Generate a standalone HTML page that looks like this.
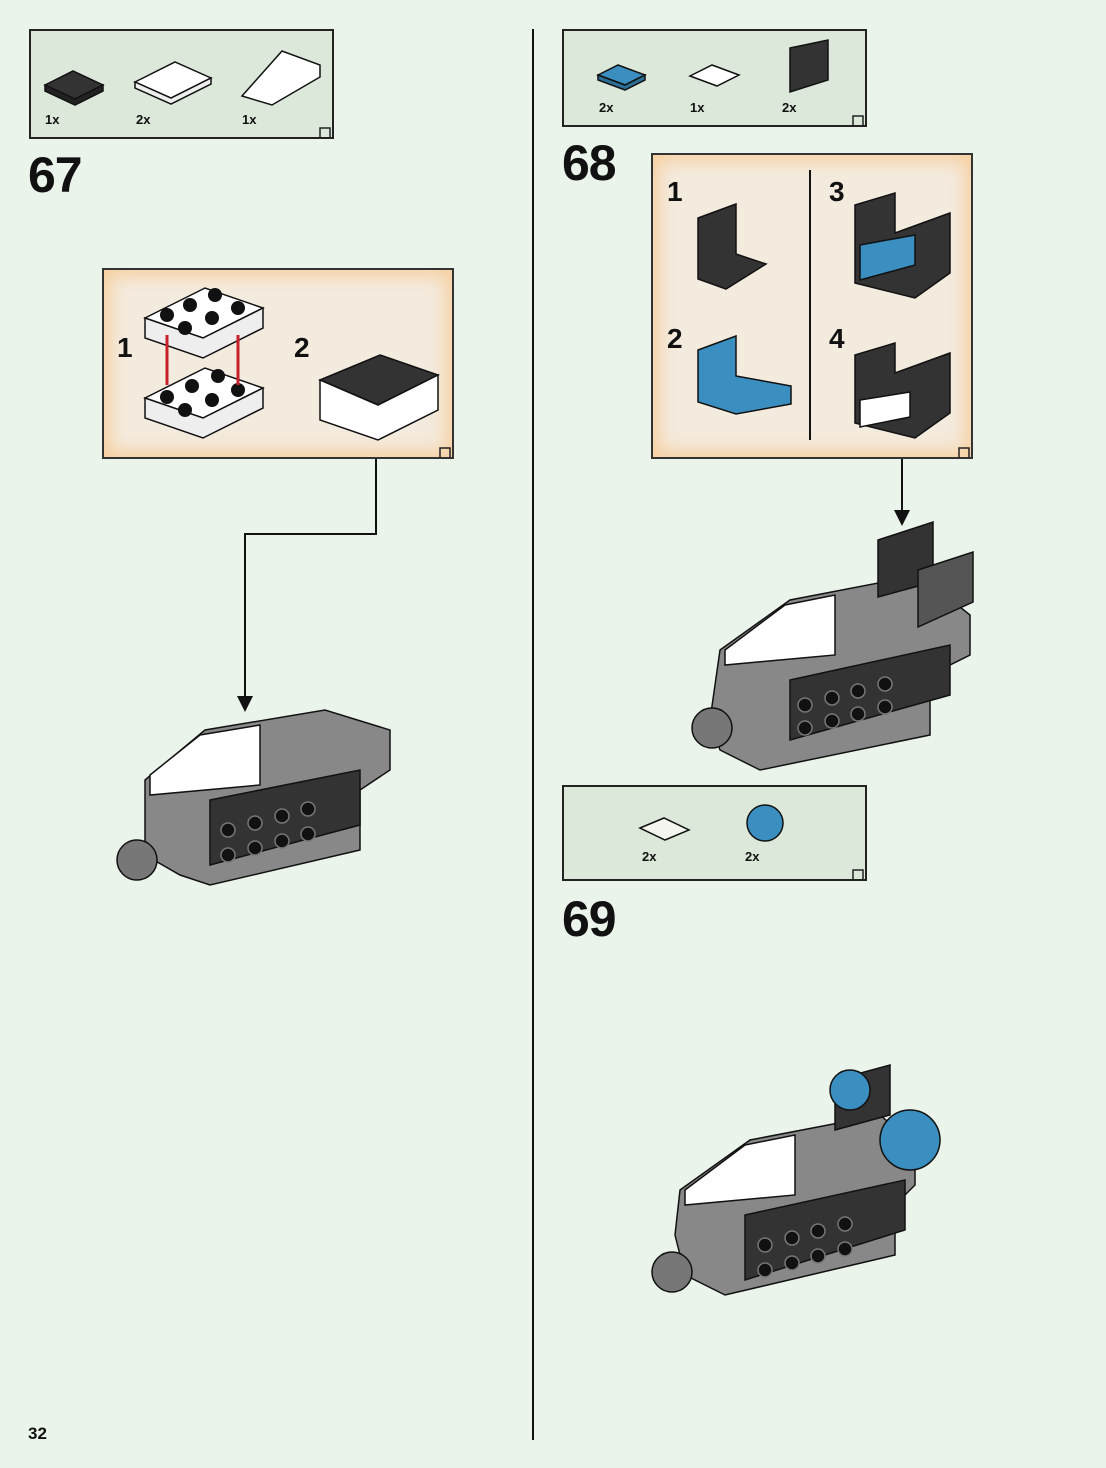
<!DOCTYPE html>
<html><head><meta charset="utf-8"><style>
body{margin:0;background:#ebf4ea;font-family:"Liberation Sans",Arial,sans-serif;}
.page{position:relative;width:1106px;height:1468px;overflow:hidden;background:#ebf4ea;}
.pb{position:absolute;background:#dbe8da;border:2px solid #222;box-sizing:border-box;}
.sb{position:absolute;background:#f4ebdf;border:2px solid #333;box-sizing:border-box;box-shadow:inset 0 0 18px 6px #f6cf9f;}
.num{position:absolute;font-weight:bold;font-size:50px;color:#111;letter-spacing:-1px;}
.q{position:absolute;font-weight:bold;font-size:13px;color:#111;}
.s{position:absolute;font-weight:bold;font-size:28px;color:#111;}
svg{position:absolute;left:0;top:0;}
</style></head><body><div class="page">
<div class="pb" style="left:29px;top:29px;width:305px;height:110px"></div>
<div class="pb" style="left:562px;top:29px;width:305px;height:98px"></div>
<div class="pb" style="left:562px;top:785px;width:305px;height:96px"></div>
<div class="sb" style="left:102px;top:268px;width:352px;height:191px"></div>
<div class="sb" style="left:651px;top:153px;width:322px;height:306px"></div>
<div class="num" style="left:28px;top:146px">67</div>
<div class="num" style="left:562px;top:134px">68</div>
<div class="num" style="left:562px;top:890px">69</div>
<div class="q" style="left:45px;top:112px">1x</div>
<div class="q" style="left:136px;top:112px">2x</div>
<div class="q" style="left:242px;top:112px">1x</div>
<div class="q" style="left:599px;top:100px">2x</div>
<div class="q" style="left:690px;top:100px">1x</div>
<div class="q" style="left:782px;top:100px">2x</div>
<div class="q" style="left:642px;top:849px">2x</div>
<div class="q" style="left:745px;top:849px">2x</div>
<div class="s" style="left:117px;top:332px">1</div>
<div class="s" style="left:294px;top:332px">2</div>
<div class="s" style="left:667px;top:176px">1</div>
<div class="s" style="left:829px;top:176px">3</div>
<div class="s" style="left:667px;top:323px">2</div>
<div class="s" style="left:829px;top:323px">4</div>
<div class="q" style="left:28px;top:1424px;font-size:17px">32</div>
<svg width="1106" height="1468" viewBox="0 0 1106 1468">
<g fill="none" stroke="#222" stroke-width="1.5">
<path d="M320,138 v-10 h10 v10"/><path d="M853,126 v-10 h10 v10"/><path d="M853,880 v-10 h10 v10"/>
<path d="M440,458 v-10 h10 v10"/><path d="M959,458 v-10 h10 v10"/>
</g>
<line x1="533" y1="29" x2="533" y2="1440" stroke="#111" stroke-width="2"/>
<line x1="810" y1="170" x2="810" y2="440" stroke="#111" stroke-width="2"/>
<path d="M376,459 V534 H245 V698" fill="none" stroke="#111" stroke-width="2"/>
<path d="M245,712 l-8,-16 h16z" fill="#111"/>
<line x1="902" y1="459" x2="902" y2="512" stroke="#111" stroke-width="2"/>
<path d="M902,526 l-8,-16 h16z" fill="#111"/>
<g stroke="#111" stroke-width="1.5">
<path d="M45,85 l28,-14 l30,14 l-28,14z" fill="#333"/><path d="M45,85 v6 l30,14 l28,-14 v-6 l-28,14z" fill="#222"/>
<path d="M135,82 l40,-20 l36,16 l-40,20z" fill="#fff"/><path d="M135,82 v6 l36,16 l40,-20 v-6 l-40,20z" fill="#eee"/>
<path d="M242,96 l40,-45 l38,14 v12 l-48,28z" fill="#fff"/>
<path d="M598,75 l20,-10 l27,10 l-20,10z" fill="#3b8fc0"/><path d="M598,75 v5 l27,10 l20,-10 v-5 l-20,10z" fill="#2c6f96"/>
<path d="M690,76 l22,-11 l27,10 l-22,11z" fill="#fff"/>
<path d="M790,48 l38,-8 v40 l-38,12z" fill="#333"/>
<path d="M640,828 l24,-10 l25,12 l-24,10z" fill="#f5f5f0"/>
<circle cx="765" cy="823" r="18" fill="#3b8fc0"/>
</g>
<g stroke="#111" stroke-width="1.5">
<path d="M145,318 l60,-30 l58,20 l-60,30z" fill="#fff"/><path d="M145,318 v20 l58,20 l60,-30 v-20 l-60,30z" fill="#eee"/>
<path d="M145,398 l60,-30 l58,20 l-60,30z" fill="#fff"/><path d="M145,398 v20 l58,20 l60,-30 v-20 l-60,30z" fill="#eee"/>
<path d="M320,380 l60,-25 l58,20 l-60,30z" fill="#333"/><path d="M320,380 v40 l58,20 l60,-30 v-35 l-60,30z" fill="#fff"/>
</g>
<g fill="#111"><circle cx="167" cy="315" r="7"/><circle cx="190" cy="305" r="7"/><circle cx="215" cy="295" r="7"/><circle cx="185" cy="328" r="7"/><circle cx="212" cy="318" r="7"/><circle cx="238" cy="308" r="7"/>
<circle cx="167" cy="397" r="7"/><circle cx="192" cy="386" r="7"/><circle cx="218" cy="376" r="7"/><circle cx="185" cy="410" r="7"/><circle cx="212" cy="400" r="7"/><circle cx="238" cy="390" r="7"/></g>
<line x1="167" y1="335" x2="167" y2="385" stroke="#c8202a" stroke-width="3"/>
<line x1="238" y1="335" x2="238" y2="385" stroke="#c8202a" stroke-width="3"/>
<g stroke="#111" stroke-width="1.5">
<path d="M698,218 l38,-14 v50 l30,10 l-40,25 l-28,-10z" fill="#333"/>
<path d="M698,350 l38,-14 v40 l55,10 v18 l-55,10 l-38,-12z" fill="#3b8fc0"/>
<path d="M855,205 l40,-12 v40 l55,-20 v60 l-35,25 l-60,-15z" fill="#333"/>
<path d="M860,245 l55,-10 v30 l-55,15z" fill="#3b8fc0"/>
<path d="M855,355 l40,-12 v30 l55,-20 v60 l-35,25 l-60,-15z" fill="#333"/>
<path d="M860,400 l50,-8 v25 l-50,10z" fill="#fff"/>
</g>
<g stroke="#111" stroke-width="1.5">
<path d="M145,780 l60,-50 l120,-20 l65,20 v40 l-30,20 v60 l-150,35 l-30,-10 l-35,-20z" fill="#888"/>
<path d="M150,775 l50,-40 l60,-10 v60 l-110,10z" fill="#fff"/>
<path d="M210,800 l150,-30 v55 l-150,40z" fill="#333"/>
<circle cx="137" cy="860" r="20" fill="#777"/>
<path d="M720,650 l70,-50 l130,-25 l50,40 v40 l-40,20 v60 l-170,35 l-40,-20 l-10,-30z" fill="#888"/>
<path d="M725,650 l60,-45 l50,-10 v60 l-110,10z" fill="#fff"/>
<path d="M790,680 l160,-35 v50 l-160,45z" fill="#333"/>
<path d="M878,540 l55,-18 v60 l-55,15z" fill="#333"/>
<path d="M918,570 l55,-18 v50 l-55,25z" fill="#555"/>
<circle cx="712" cy="728" r="20" fill="#777"/>
<path d="M680,1190 l70,-50 l130,-25 l35,30 v40 l-20,20 v50 l-170,40 l-40,-20 l-10,-40z" fill="#888"/>
<path d="M685,1190 l60,-45 l50,-10 v60 l-110,10z" fill="#fff"/>
<path d="M745,1215 l160,-35 v50 l-160,50z" fill="#333"/>
<path d="M835,1080 l55,-15 v50 l-55,15z" fill="#333"/>
<circle cx="910" cy="1140" r="30" fill="#3b8fc0"/>
<circle cx="850" cy="1090" r="20" fill="#3b8fc0"/>
<circle cx="672" cy="1272" r="20" fill="#777"/>
</g>
<g fill="#111" stroke="#777" stroke-width="1.5">
<circle cx="228" cy="830" r="7"/><circle cx="255" cy="823" r="7"/><circle cx="282" cy="816" r="7"/><circle cx="308" cy="809" r="7"/><circle cx="228" cy="855" r="7"/><circle cx="255" cy="848" r="7"/><circle cx="282" cy="841" r="7"/><circle cx="308" cy="834" r="7"/>
<circle cx="805" cy="705" r="7"/><circle cx="832" cy="698" r="7"/><circle cx="858" cy="691" r="7"/><circle cx="885" cy="684" r="7"/><circle cx="805" cy="728" r="7"/><circle cx="832" cy="721" r="7"/><circle cx="858" cy="714" r="7"/><circle cx="885" cy="707" r="7"/>
<circle cx="765" cy="1245" r="7"/><circle cx="792" cy="1238" r="7"/><circle cx="818" cy="1231" r="7"/><circle cx="845" cy="1224" r="7"/><circle cx="765" cy="1270" r="7"/><circle cx="792" cy="1263" r="7"/><circle cx="818" cy="1256" r="7"/><circle cx="845" cy="1249" r="7"/>
</g>
</svg>
</div></body></html>
